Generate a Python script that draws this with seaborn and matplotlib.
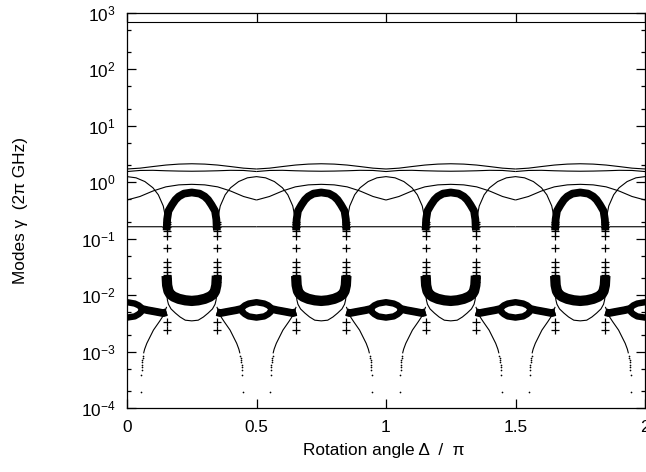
import numpy as np
import matplotlib
matplotlib.use("Agg")
import matplotlib.pyplot as plt
import seaborn as sns
from matplotlib.ticker import FixedLocator, LogLocator, NullLocator, LogFormatterMathtext

# ---------------- data ----------------
# curves repeat with period 0.5 in Delta/pi
period_starts = [0.0, 0.5, 1.0, 1.5]
eye_centers = [0.0, 0.5, 1.0, 1.5, 2.0]      # eyes / arcs centred here
u_centers = [0.25, 0.75, 1.25, 1.75]          # thick "U" loops centred here

top_x = [0.0, 2.0]
top_y = [680.0, 680.0]

# one period of the smooth upper modes
wave_x = [0.0, 0.05, 0.1, 0.15, 0.2, 0.25, 0.3, 0.35, 0.4, 0.45, 0.5]
mode_a = [1.72, 1.78, 1.90, 2.02, 2.10, 2.13, 2.10, 2.02, 1.90, 1.78, 1.72]
mode_b = [1.55, 1.62, 1.63, 1.60, 1.58, 1.57, 1.58, 1.60, 1.63, 1.62, 1.55]
mode_c = [0.485, 0.56, 0.70, 0.83, 0.90, 0.92, 0.90, 0.83, 0.70, 0.56, 0.485]

# nearly flat mode at ~0.16 (small dips at the exceptional points)
flat_x = [0.0, 0.135, 0.153, 0.171, 0.329, 0.347, 0.365, 0.5]
flat_y = [0.163, 0.163, 0.148, 0.163, 0.163, 0.148, 0.163, 0.163]

# arcs (offset from eye centre)
arc_off = [-0.155, -0.152, -0.147, -0.14, -0.121, -0.1, -0.069, -0.035, 0.0,
           0.035, 0.069, 0.1, 0.121, 0.14, 0.147, 0.152, 0.155]
arc_val = [0.15, 0.2, 0.26, 0.38, 0.60, 0.80, 1.03, 1.20, 1.26,
           1.20, 1.03, 0.80, 0.60, 0.38, 0.26, 0.2, 0.15]

# thick U loop: upper branch (offset from U centre)
ut_off = [-0.097, -0.095, -0.09, -0.076, -0.063, -0.05, -0.03, 0.0,
          0.03, 0.05, 0.063, 0.076, 0.09, 0.095, 0.097]
ut_val = [0.14, 0.22, 0.31, 0.40, 0.49, 0.56, 0.63, 0.66,
          0.63, 0.56, 0.49, 0.40, 0.31, 0.22, 0.14]
# thick U loop: lower branch
ub_off = [-0.097, -0.095, -0.09, -0.083, -0.07, -0.05, -0.025, 0.0,
          0.025, 0.05, 0.07, 0.083, 0.09, 0.095, 0.097]
ub_val = [0.022, 0.015, 0.0118, 0.0104, 0.0094, 0.0086, 0.0081, 0.0079,
          0.0081, 0.0086, 0.0094, 0.0104, 0.0118, 0.015, 0.022]
# thin U under the loop
tu_off = [-0.097, -0.094, -0.09, -0.08, -0.063, -0.045, -0.025, 0.0,
          0.025, 0.045, 0.063, 0.08, 0.09, 0.094, 0.097]
tu_val = [0.011, 0.0082, 0.0069, 0.0057, 0.0048, 0.0041, 0.0036, 0.0035,
          0.0036, 0.0041, 0.0048, 0.0057, 0.0069, 0.0082, 0.011]

# thick low mode with "eye" (offset from eye centre) - upper path
eye_top_off = [-0.153, -0.14, -0.12, -0.1, -0.08, -0.065, -0.057, -0.054, -0.045,
               -0.03, 0.0, 0.03, 0.045, 0.054, 0.057, 0.065, 0.08, 0.1, 0.12, 0.14, 0.153]
eye_top_val = [0.0050, 0.0048, 0.0050, 0.0052, 0.0054, 0.0056, 0.0057, 0.0061, 0.0066,
               0.0071, 0.0075, 0.0071, 0.0066, 0.0061, 0.0057, 0.0056, 0.0054, 0.0052,
               0.0050, 0.0048, 0.0050]
eye_bot_off = [-0.057, -0.054, -0.045, -0.03, 0.0, 0.03, 0.045, 0.054, 0.057]
eye_bot_val = [0.0057, 0.0050, 0.0046, 0.0042, 0.0040, 0.0042, 0.0046, 0.0050, 0.0057]

# thin modes falling towards zero (offset from eye centre, left side / right side)
fall_left_off = [-0.153, -0.141, -0.125, -0.102, -0.0765, -0.068, -0.064]
fall_right_off = [0.153, 0.141, 0.125, 0.102, 0.0765, 0.068, 0.064]
fall_val = [0.0062, 0.0044, 0.0034, 0.0024, 0.0014, 0.0011, 0.00093]
dots_left_off = [-0.0625, -0.061, -0.0598, -0.0587, -0.0577, -0.0568, -0.056, -0.0553, -0.054]
dots_right_off = [0.0625, 0.061, 0.0598, 0.0587, 0.0577, 0.0568, 0.056, 0.0553, 0.054]
dots_val = [0.00085, 0.00078, 0.00071, 0.00065, 0.00059, 0.00053, 0.00047, 0.00038, 0.00019]

# '+' markers at the exceptional points (offset from U centre)
plus_off = [-0.097, 0.097]
plus_val = [0.2, 0.18, 0.163, 0.137, 0.113, 0.068, 0.039, 0.032, 0.026,
            0.0228, 0.0199, 0.0173, 0.0034, 0.0024]

x_ticks = [0, 0.5, 1, 1.5, 2]
x_tick_labels = ["0", "0.5", "1", "1.5", "2"]

# ---------------- drawing ----------------
sns.set_style("ticks")
plt.rcParams["font.family"] = ["Liberation Sans", "DejaVu Sans"]
plt.rcParams["mathtext.fontset"] = "custom"
plt.rcParams["mathtext.rm"] = "Liberation Sans"
plt.rcParams["mathtext.it"] = "Liberation Sans:italic"
plt.rcParams["mathtext.default"] = "regular"

fig = plt.figure(figsize=(6.46, 4.72), dpi=100)
ax = fig.add_axes([127 / 646, 64 / 472, 518 / 646, 395 / 472])
ax.set_yscale("log")

K = "black"
THIN = 0.8


def line(x, y, lw=THIN, z=2):
    sns.lineplot(x=np.asarray(x, float), y=np.asarray(y, float), ax=ax, color=K,
                 linewidth=lw, estimator=None, sort=False, legend=False,
                 zorder=z, solid_capstyle="butt")


line(top_x, top_y)
wx = np.asarray(wave_x)
for p in period_starts:
    line(wx + p, mode_a)
    line(wx + p, mode_b)
    line(wx + p, mode_c)
    line(np.asarray(flat_x) + p, flat_y)

for c in eye_centers:
    line(np.asarray(arc_off) + c, arc_val)
    line(np.asarray(fall_left_off) + c, fall_val)
    line(np.asarray(fall_right_off) + c, fall_val)
    for offs in (dots_left_off, dots_right_off):
        sns.scatterplot(x=np.asarray(offs) + c, y=dots_val, ax=ax, color=K, s=1.5,
                        marker="o", linewidth=0, legend=False, zorder=3)
    line(np.asarray(eye_top_off) + c, eye_top_val, lw=4.6, z=4)
    line(np.asarray(eye_bot_off) + c, eye_bot_val, lw=4.6, z=4)
    # the straight parts beside the eye are drawn a little heavier
    line(np.asarray(eye_top_off[:7]) + c, eye_top_val[:7], lw=5.6, z=4)
    line(np.asarray(eye_top_off[-7:]) + c, eye_top_val[-7:], lw=5.6, z=4)

for c in u_centers:
    line(np.asarray(tu_off) + c, tu_val)
    line(np.asarray(ut_off) + c, ut_val, lw=5.6, z=4)
    line(np.asarray(ub_off) + c, ub_val, lw=7.4, z=4)
    for o in plus_off:
        sns.scatterplot(x=[c + o] * len(plus_val), y=plus_val, ax=ax, color=K,
                        marker="+", s=30, linewidth=0.9, legend=False, zorder=5)

ax.set_xlim(0, 2)
ax.set_ylim(1e-4, 1e3)

ax.xaxis.set_major_locator(FixedLocator(x_ticks))
ax.set_xticklabels(x_tick_labels)
ax.xaxis.set_minor_locator(NullLocator())
ax.yaxis.set_major_locator(LogLocator(base=10, numticks=20))
ax.yaxis.set_minor_locator(LogLocator(base=10, subs=(2.0, 5.0), numticks=20))
ax.yaxis.set_major_formatter(LogFormatterMathtext())

ax.tick_params(which="both", direction="in", top=True, right=True, color=K,
               width=0.9, labelsize=12.4, labelcolor=K)
ax.tick_params(which="major", length=6.5, pad=8.4)
ax.tick_params(which="minor", length=3.2)
for s in ax.spines.values():
    s.set_visible(True)
    s.set_linewidth(0.9)
    s.set_color(K)

ax.set_xlabel("Rotation angle \u0394  /  \u03c0", fontsize=12.4, color=K)
ax.set_ylabel("Modes \u03b3  (2\u03c0 GHz)", fontsize=12.4, color=K)
ax.xaxis.set_label_coords(0.495, -0.089)
ax.yaxis.set_label_coords(-0.192, 0.5)

fig.savefig("out.png", dpi=100)
